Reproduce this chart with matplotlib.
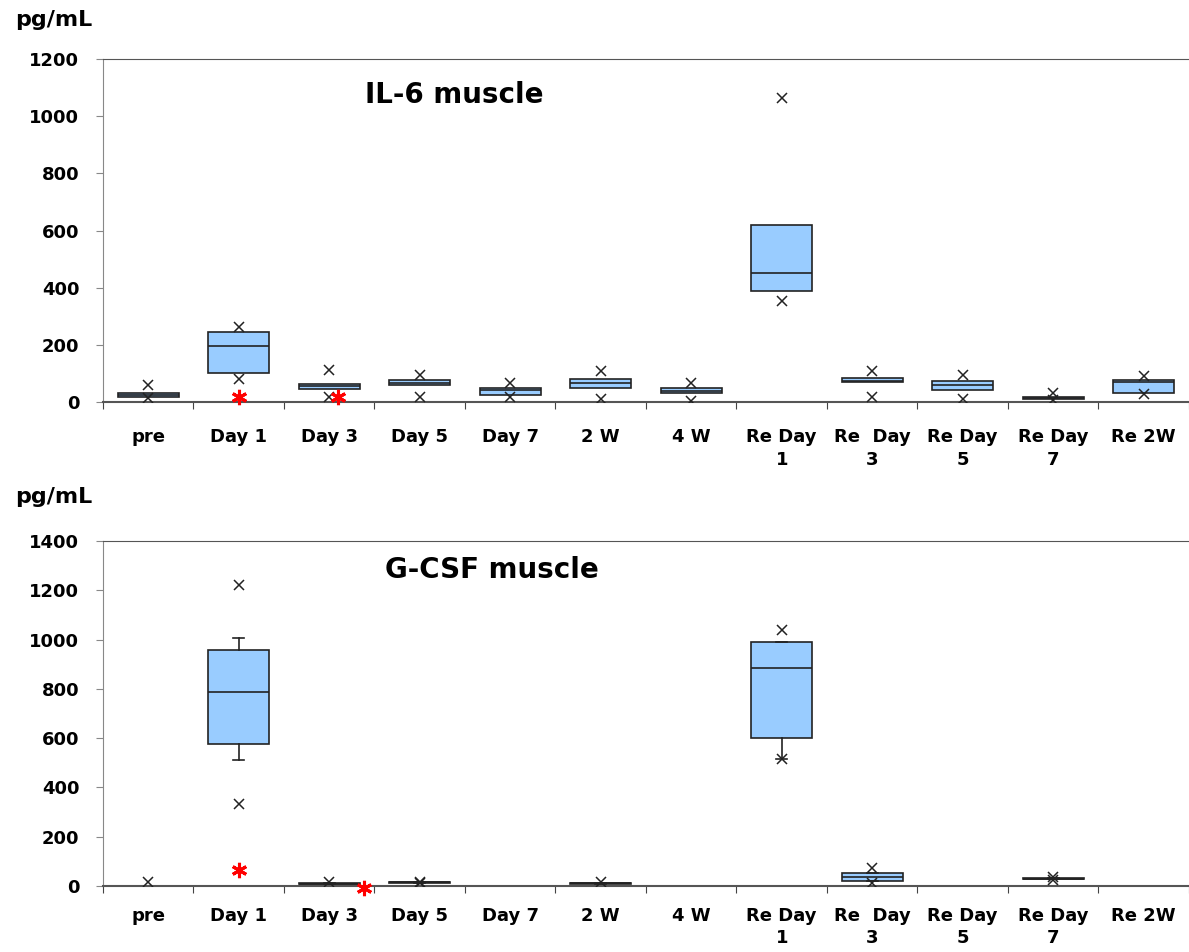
import numpy as np
import matplotlib
matplotlib.use("Agg")
import matplotlib.pyplot as plt

plt.rcParams['font.family'] = ['DejaVu Sans']
plt.rcParams['font.weight'] = 'bold'

labels = ["pre", "Day 1", "Day 3", "Day 5", "Day 7", "2 W", "4 W",
          "Re Day\n1", "Re  Day\n3", "Re Day\n5", "Re Day\n7", "Re 2W"]

# IL-6 muscle (None = no box)
il6_q1 = [17, 101, 45, 59, 24, 49, 31, 390, 70, 42, 10, 31]
il6_med = [25, 196, 55, 68, 42, 66, 40, 450, 75, 59, 13, 70]
il6_q3 = [31, 245, 63, 77, 49, 80, 49, 620, 84, 73, 17, 77]
il6_lo = [17, 101, 45, 59, 24, 49, 31, 390, 70, 42, 10, 31]
il6_hi = [31, 245, 63, 77, 49, 80, 49, 620, 84, 73, 17, 77]
il6_xhigh = [59, 262, 112, 94, 66, 108, 66, 1065, 108, 94, 31, 91]
il6_xlow = [14, 80, 17, 17, 17, 10, 3, 355, 18, 10, 7, 28]
il6_star_cat = [1, 2]
il6_star_val = [17, 17]
il6_star_dx = [0.0, 0.1]

# G-CSF muscle
gcsf_q1 = [None, 576, 8, 14, None, 10, None, 601, 20, None, 28, None]
gcsf_med = [None, 787, 10, 16, None, 12, None, 885, 37, None, 30, None]
gcsf_q3 = [None, 958, 12, 18, None, 13, None, 990, 53, None, 32, None]
gcsf_lo = [None, 511, 8, 14, None, 10, None, 515, 20, None, 28, None]
gcsf_hi = [None, 1006, 12, 18, None, 13, None, 990, 53, None, 32, None]
gcsf_xhigh = [16, 1221, 16, 16, None, 16, None, 1039, 73, None, 37, None]
gcsf_xlow = [None, 333, None, 12, None, None, None, 515, 12, None, 24, None]
gcsf_star_cat = [1, 2]
gcsf_star_val = [65, -8]
gcsf_star_dx = [0.0, 0.38]


def draw(ax, q1, med, q3, lo, hi, xhigh, xlow, star_cat, star_val, star_dx,
         ymax, caps, pad):
    stats = []
    pos = []
    for i in range(len(labels)):
        if q1[i] is None:
            continue
        stats.append(dict(q1=q1[i], med=med[i], q3=q3[i],
                          whislo=lo[i], whishi=hi[i], fliers=[]))
        pos.append(i + 0.5)
    ax.bxp(stats, positions=pos, widths=0.67, patch_artist=True,
           showcaps=caps,
           boxprops=dict(facecolor='#99ccff', edgecolor='#222222', linewidth=1.2),
           medianprops=dict(color='#222222', linewidth=1.2),
           whiskerprops=dict(color='#222222', linewidth=1.2),
           capprops=dict(color='#222222', linewidth=1.2), capwidths=0.12,
           zorder=2)
    for vals in (xhigh, xlow):
        xs = [i + 0.5 for i, v in enumerate(vals) if v is not None]
        ys = [v for v in vals if v is not None]
        ax.plot(xs, ys, linestyle='none', marker='x', color='#222222',
                markersize=7, markeredgewidth=1.1, zorder=3)
    ax.plot([c + 0.5 + d for c, d in zip(star_cat, star_dx)], star_val,
            linestyle='none', marker=(6, 2, 0), color='red', markersize=11,
            markeredgewidth=2.2, zorder=4, clip_on=False)

    ax.set_xlim(0, 12)
    ax.set_ylim(0, ymax)
    ax.set_yticks(np.arange(0, ymax + 1, 200))
    ax.set_xticks(np.arange(0, 13))
    ax.set_xticklabels([])
    ax.set_xticks(np.arange(12) + 0.5, minor=True)
    ax.set_xticklabels(labels, minor=True, fontsize=13, fontweight='bold',
                       linespacing=1.3)
    ax.tick_params(axis='x', which='minor', length=0, pad=pad)
    ax.tick_params(axis='x', which='major', length=5, direction='out',
                   color='#444444')
    ax.tick_params(axis='y', length=5, color='#888888', labelsize=13, pad=12)
    for t in ax.get_yticklabels():
        t.set_fontweight('bold')
    ax.spines['right'].set_visible(False)
    ax.spines['left'].set_color('#888888')
    ax.spines['top'].set_color('#555555')
    ax.spines['bottom'].set_color('#555555')
    ax.spines['bottom'].set_linewidth(1.5)


fig = plt.figure(figsize=(11.89, 9.52), dpi=100)
ax1 = fig.add_axes([0.0866, 0.5777, 0.9134, 0.3603])
ax2 = fig.add_axes([0.0866, 0.0693, 0.9134, 0.3624])

draw(ax1, il6_q1, il6_med, il6_q3, il6_lo, il6_hi, il6_xhigh, il6_xlow,
     il6_star_cat, il6_star_val, il6_star_dx, 1200, False, 19)
draw(ax2, gcsf_q1, gcsf_med, gcsf_q3, gcsf_lo, gcsf_hi, gcsf_xhigh, gcsf_xlow,
     gcsf_star_cat, gcsf_star_val, gcsf_star_dx, 1400, True, 15)

W, H = 1189, 952
fig.text(365 / W, 1 - 95 / H, "IL-6 muscle", fontsize=20, fontweight='bold',
         va='center', ha='left')
fig.text(385 / W, 1 - 570 / H, "G-CSF muscle", fontsize=20, fontweight='bold',
         va='center', ha='left')
fig.text(15 / W, 1 - 20 / H, "pg/mL", fontsize=16, fontweight='bold',
         va='center', ha='left')
fig.text(15 / W, 1 - 497 / H, "pg/mL", fontsize=16, fontweight='bold',
         va='center', ha='left')

fig.savefig("out.png", dpi=100)
